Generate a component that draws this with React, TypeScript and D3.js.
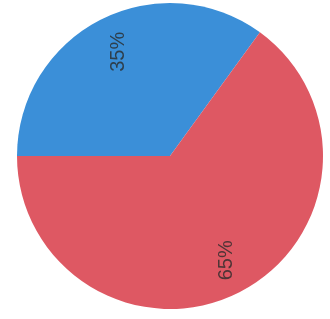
import React from "react";
import * as d3 from "d3";

const categories = ["A", "B"];
const values = [35, 65];
const labels = ["35%", "65%"];
const colors = ["#3a8fd8", "#de5964"];

export default function App() {
  const width = 330;
  const height = 319;
  const cx = 170;
  const cy = 156;
  const r = 153;
  const pie = d3
    .pie<number>()
    .sort(null)
    .startAngle(-Math.PI / 2)
    .endAngle((3 * Math.PI) / 2);
  const arcs = pie(values);
  const arc = d3.arc<d3.PieArcDatum<number>>().innerRadius(0).outerRadius(r);
  const labelArc = d3
    .arc<d3.PieArcDatum<number>>()
    .innerRadius(117)
    .outerRadius(117);
  return (
    <svg
      width={width}
      height={height}
      style={{ position: "absolute", left: 0, top: 0, background: "#fff" }}
    >
      <defs>
        <filter id="soft" x="-5%" y="-5%" width="110%" height="110%">
          <feGaussianBlur stdDeviation="0.7" />
        </filter>
      </defs>
      <g transform={`translate(${cx},${cy})`} filter="url(#soft)">
        {arcs.map((a, i) => (
          <path key={categories[i]} d={arc(a) || ""} fill={colors[i]} />
        ))}
        {arcs.map((a, i) => {
          const [x, y] = labelArc.centroid(a);
          return (
            <text
              key={"l" + categories[i]}
              transform={`translate(${x + (i === 1 ? 2 : 0)},${y}) rotate(-90)`}
              textAnchor="middle"
              dominantBaseline="central"
              fontFamily="'Liberation Sans', Arial, sans-serif"
              fontSize={20}
              fill="#2a2a2a"
              fillOpacity={0.8}
            >
              {labels[i]}
            </text>
          );
        })}
      </g>
    </svg>
  );
}
